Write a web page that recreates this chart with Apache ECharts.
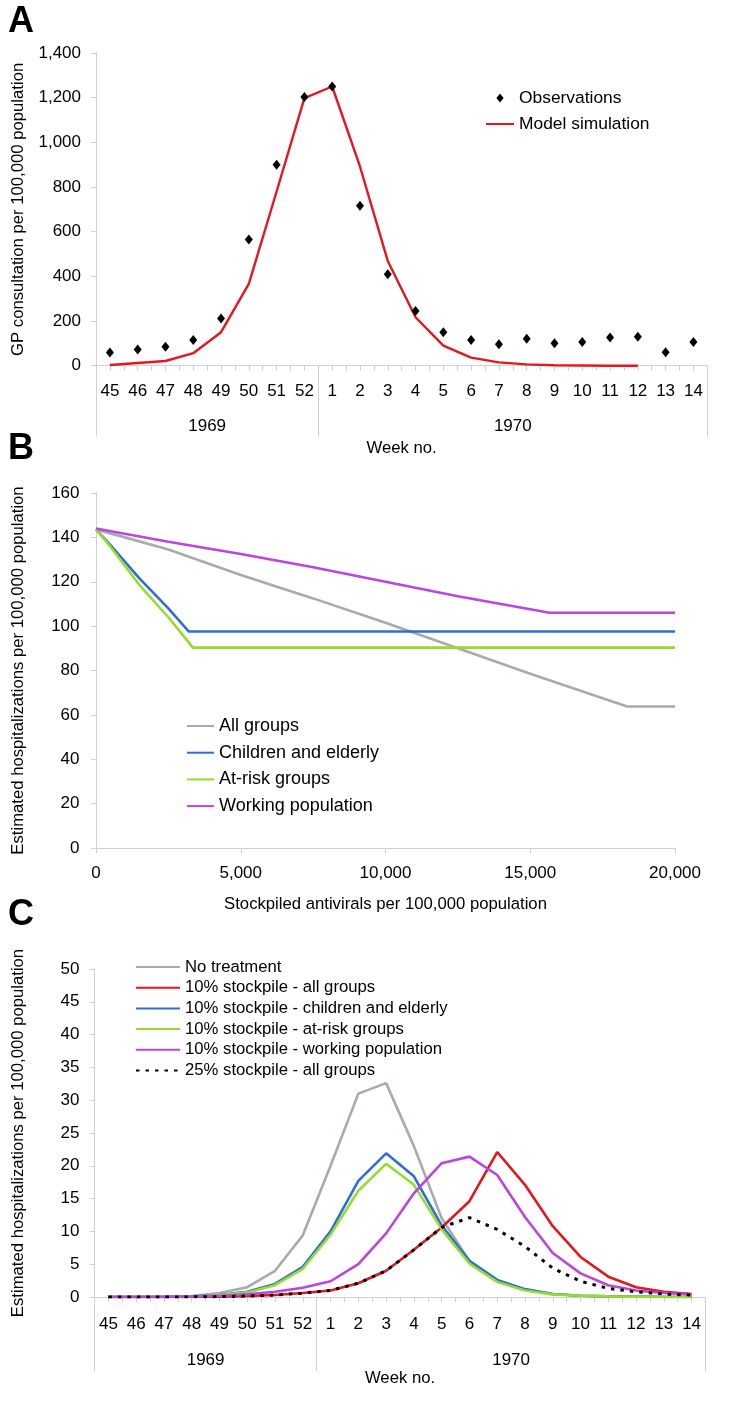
<!DOCTYPE html>
<html><head><meta charset="utf-8">
<script src="https://cdn.jsdelivr.net/npm/echarts@6/dist/echarts.min.js"></script>
<style>html,body{margin:0;padding:0;background:#fff}#c{width:750px;height:1412px}</style>
</head><body><div id="c"></div>
<script>
// ---------- data ----------
const weeks = ['45','46','47','48','49','50','51','52','1','2','3','4','5','6','7','8','9','10','11','12','13','14'];
const years = ['1969','1970'];

// Panel A: GP consultations per 100,000
const observations = [59,72,85,115,211,565,900,1203,1250,716,409,245,150,115,96,121,100,106,126,130,60,106];
const modelSimulation = [3,12,21,56,150,366,780,1198,1250,892,469,217,90,36,15,6,2,1,0,0,null,null];

// Panel B: [stockpiled antivirals, hospitalizations]
const allGroups = [[0,143.6],[1000,140],[2500,134.5],[5000,123],[7500,112.5],[10000,101.5],[12500,90],[15000,78.5],[17500,67.5],[18350,63.8],[20000,63.8]];
const childrenElderly = [[0,143.6],[500,136.5],[1500,121.5],[2500,108],[3200,97.6],[20000,97.6]];
const atRiskGroups = [[0,143.6],[500,135.8],[1500,118.5],[2500,104],[3350,90.3],[20000,90.3]];
const workingPopulation = [[0,144],[2500,138],[5000,132.5],[7500,126.5],[10000,120],[12500,113.5],[15670,106],[20000,106]];

// Panel C: weekly hospitalizations per 100,000
const noTreatment = [0,0,0.05,0.15,0.6,1.5,4.0,9.4,20,31,32.6,23,12,5.5,2.5,1.1,0.45,0.2,0.1,0.05,0,0];
const all10 = [0,0,0,0.02,0.05,0.15,0.3,0.6,1.0,2.1,4.0,7.2,10.6,14.6,22.1,17.1,10.8,6.1,3.1,1.5,0.8,0.45];
const children10 = [0,0,0,0.1,0.3,0.8,2.0,4.6,10.0,17.7,21.9,18.4,10.9,5.5,2.6,1.2,0.45,0.2,0.1,0.05,0,0];
const atRisk10 = [0,0,0,0.08,0.25,0.7,1.8,4.3,9.5,16.2,20.3,17.1,10.3,5.1,2.3,1.0,0.4,0.2,0.1,0.05,0,0];
const working10 = [0,0,0,0.05,0.15,0.4,0.8,1.4,2.4,5.0,9.7,15.8,20.4,21.4,18.6,12.2,6.7,3.6,1.8,1.0,0.6,0.4];
const all25 = [0,0,0,0.02,0.05,0.15,0.3,0.6,1.0,2.1,4.0,7.2,10.6,12.1,10.3,7.7,4.4,2.4,1.3,0.8,0.45,0.3];

// ---------- derived axis helpers ----------
const yearStarts = [0];
weeks.forEach((w, i) => { if (i > 0 && +w < +weeks[i - 1]) yearStarts.push(i); });
const yearBounds = yearStarts.concat([weeks.length]);
const yearCenters = years.map((y, k) => (yearBounds[k] + yearBounds[k + 1]) / 2);
const weekCenters = weeks.map((w, i) => i + 0.5);

const FONT = '"Liberation Sans", Arial, sans-serif';
const AX = '#d0d0d0';
const TXT = '#000';
const comma = v => Number(v).toLocaleString('en-US');

const C_RED = '#e3171f', C_GRAY = '#a5aca9', C_BLUE = '#2f6ed6', C_GREEN = '#95dc2f', C_MAG = '#bb45dd';

function weekAxis(grid, margin) {
  return {
    type: 'category', gridIndex: grid, data: weeks, boundaryGap: true, position: 'bottom',
    axisLine: { show: true, lineStyle: { color: AX, width: 1 } },
    axisTick: { show: true, interval: 0, length: 5, lineStyle: { color: AX } },
    axisLabel: { interval: 0, fontSize: 17, color: TXT, fontFamily: FONT, margin: margin },
    splitLine: { show: false }
  };
}
function yearAxis(grid, tickLen, labelMargin, nameGap) {
  return {
    type: 'value', gridIndex: grid, min: 0, max: weeks.length, position: 'bottom',
    axisLine: { show: false },
    axisTick: { show: true, customValues: yearBounds, length: tickLen, lineStyle: { color: AX } },
    axisLabel: { show: true, customValues: yearCenters, fontSize: 17, color: TXT, fontFamily: FONT, margin: labelMargin,
      formatter: v => years[yearCenters.indexOf(v)] },
    splitLine: { show: false },
    name: 'Week no.', nameLocation: 'middle', nameGap: nameGap,
    nameTextStyle: { fontSize: 16.7, color: TXT, fontFamily: FONT }
  };
}
function halfTickAxis(grid) {
  return {
    type: 'value', gridIndex: grid, min: 0, max: weeks.length, position: 'bottom',
    axisLine: { show: false },
    axisTick: { show: true, customValues: weekCenters, length: 5, lineStyle: { color: AX } },
    axisLabel: { show: false }, splitLine: { show: false }
  };
}
function yAxis(grid, max, interval, name, labelMargin, nameGap) {
  return {
    type: 'value', gridIndex: grid, min: 0, max: max, interval: interval,
    axisLine: { show: true, lineStyle: { color: AX } },
    axisTick: { show: true, length: 5, lineStyle: { color: AX } },
    axisLabel: { fontSize: 17, color: TXT, fontFamily: FONT, margin: labelMargin, formatter: comma },
    splitLine: { show: false },
    name: name, nameLocation: 'middle', nameGap: nameGap,
    nameTextStyle: { fontSize: 16.7, color: TXT, fontFamily: FONT }
  };
}
function lineS(name, data, color, xi, yi, extra) {
  return Object.assign({
    name: name, type: 'line', data: data, xAxisIndex: xi, yAxisIndex: yi,
    symbol: 'none', showSymbol: false, connectNulls: false,
    lineStyle: { color: color, width: 2.6 }, itemStyle: { color: color }, z: 3
  }, extra || {});
}

const legendText = (fs) => ({ fontSize: fs, color: TXT, fontFamily: FONT, lineHeight: 18 });
const hideSym = { opacity: 0 };

const option = {
  animation: false,
  backgroundColor: '#fff',
  title: [
    { text: 'A', left: 8, top: 4, padding: 0, textStyle: { fontSize: 36, fontWeight: 'bold', color: '#000', fontFamily: FONT } },
    { text: 'B', left: 8, top: 431, padding: 0, textStyle: { fontSize: 36, fontWeight: 'bold', color: '#000', fontFamily: FONT } },
    { text: 'C', left: 8, top: 897, padding: 0, textStyle: { fontSize: 36, fontWeight: 'bold', color: '#000', fontFamily: FONT } }
  ],
  grid: [
    { left: 96, top: 53, width: 611.3, height: 312.7 },
    { left: 96, top: 493, width: 579, height: 355 },
    { left: 94.5, top: 969, width: 611, height: 328 }
  ],
  legend: [
    { data: [{ name: 'Observations', icon: 'path://M0,-5L4,0L0,5L-4,0Z', itemStyle: { opacity: 1, color: '#000' } }, 'Model simulation'],
      orient: 'vertical', left: 485, top: 89, symbolKeepAspect: true, itemStyle: hideSym,
      itemWidth: 28, itemHeight: 9, itemGap: 8, padding: 0, textStyle: legendText(17.4) },
    { data: ['All groups', 'Children and elderly', 'At-risk groups', 'Working population'], orient: 'vertical', left: 186, top: 717,
      itemStyle: hideSym, itemWidth: 27, itemHeight: 10, itemGap: 8.7, padding: 0, textStyle: legendText(18) },
    { data: ['No treatment', '10% stockpile - all groups', '10% stockpile - children and elderly', '10% stockpile - at-risk groups',
      '10% stockpile - working population', '25% stockpile - all groups'], orient: 'vertical', left: 135, top: 958,
      itemStyle: hideSym, itemWidth: 44, itemHeight: 10, itemGap: 2.7, padding: 0, textStyle: legendText(16.7) }
  ],
  xAxis: [
    weekAxis(0, 17),
    yearAxis(0, 71, 52, 74),
    halfTickAxis(0),
    {
      type: 'value', gridIndex: 1, min: 0, max: 20000, interval: 5000,
      axisLine: { show: true, lineStyle: { color: AX } },
      axisTick: { show: true, length: 5, lineStyle: { color: AX } },
      axisLabel: { fontSize: 17, color: TXT, fontFamily: FONT, margin: 16.5, formatter: comma },
      splitLine: { show: false },
      name: 'Stockpiled antivirals per 100,000 population', nameLocation: 'middle', nameGap: 47.5,
      nameTextStyle: { fontSize: 16.7, color: TXT, fontFamily: FONT }
    },
    weekAxis(2, 18.5),
    yearAxis(2, 74, 54.5, 70.5),
    halfTickAxis(2)
  ],
  yAxis: [
    yAxis(0, 1400, 200, 'GP consultation per 100,000 population', 15, 69.5),
    yAxis(1, 160, 20, 'Estimated hospitalizations per 100,000 population', 16.5, 69.5),
    yAxis(2, 50, 5, 'Estimated hospitalizations per 100,000 population', 15, 68)
  ],
  series: [
    { name: 'Observations', type: 'scatter', data: observations, xAxisIndex: 0, yAxisIndex: 0,
      symbol: 'diamond', symbolSize: [8, 10], itemStyle: { color: '#000', opacity: 1 }, z: 4 },
    lineS('Model simulation', modelSimulation, C_RED, 0, 0, { lineStyle: { color: C_RED, width: 2.4 } }),

    lineS('All groups', allGroups, C_GRAY, 3, 1),
    lineS('Children and elderly', childrenElderly, C_BLUE, 3, 1),
    lineS('At-risk groups', atRiskGroups, C_GREEN, 3, 1),
    lineS('Working population', workingPopulation, C_MAG, 3, 1),

    lineS('No treatment', noTreatment, C_GRAY, 4, 2),
    lineS('10% stockpile - all groups', all10, C_RED, 4, 2),
    lineS('10% stockpile - children and elderly', children10, C_BLUE, 4, 2),
    lineS('10% stockpile - at-risk groups', atRisk10, C_GREEN, 4, 2),
    lineS('10% stockpile - working population', working10, C_MAG, 4, 2),
    lineS('25% stockpile - all groups', all25, '#000', 4, 2,
      { lineStyle: { color: '#000', width: 3, type: [3.5, 6], cap: 'butt' }, z: 5 })
  ]
};

const chart = echarts.init(document.getElementById('c'), null, { renderer: 'canvas', width: 750, height: 1412 });
chart.setOption(option);
</script>
</body></html>
